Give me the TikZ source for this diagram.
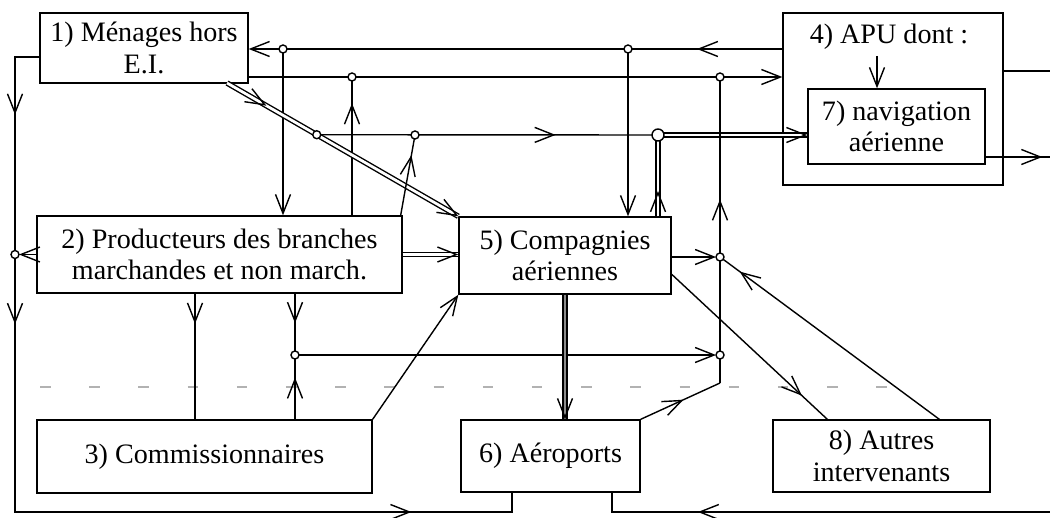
\documentclass[tikz,border=0pt]{standalone}
\usepackage{fontspec}
\setmainfont{Liberation Serif}
\usetikzlibrary{arrows.meta, positioning, calc, decorations.markings}
\tikzset{
  box/.style={rectangle, draw, line width=0.8pt, align=center, inner sep=2pt},
  flow/.style={line width=0.8pt},
  endarr/.style={-{Straight Barb[length=3.8mm, width=3mm]}},
  arr/.style={postaction={decorate, decoration={markings,
    mark=at position #1 with {\arrow[line width=0.8pt]{Straight Barb[length=3.8mm, width=3mm]}}}}},
  dbl/.style={line width=0.8pt, double, double distance=0.55mm},
  hvy/.style={line width=0.8pt, double=black!45, double distance=0.45mm},
  dot/.style={circle, draw, line width=0.8pt, fill=white, inner sep=0pt, minimum size=1.6mm},
  faint/.style={draw=black!30, line width=0.6pt, dash pattern=on 6pt off 22pt},
}

\begin{document}
\begin{tikzpicture}[x=0.02cm, y=-0.02cm, font=\fontsize{16}{18}\selectfont]
\useasboundingbox (0,0) rectangle (1050,517);
% agents
\node[box, minimum width=4.16cm, minimum height=1.4cm] (b1) at (144,48) {1) Ménages hors\\E.I.};
\node[box, minimum width=4.4cm, minimum height=3.44cm] (b4) at (893,99) {};
\node (t4) at (889,37) {4) APU dont :};
\node[box, minimum width=3.54cm, minimum height=1.5cm] (b7) at (896.5,126.5) {7) navigation\\aérienne};
\node[box, minimum width=7.3cm, minimum height=1.54cm] (b2) at (219.5,254.5) {2) Producteurs des branches\\marchandes et non march.};
\node[box, minimum width=4.24cm, minimum height=1.54cm] (b5) at (565,255.5) {5) Compagnies\\aériennes};
\node[box, minimum width=6.7cm, minimum height=1.46cm] (b3) at (204.5,456.5) {3) Commissionnaires};
\node[box, minimum width=3.58cm, minimum height=1.44cm] (b6) at (550.5,456) {6) Aéroports};
\node[box, minimum width=4.34cm, minimum height=1.44cm] (b8) at (881.5,456) {8) Autres\\intervenants};
% junctions and bends
\coordinate (jA1) at (283,49);
\coordinate (jA2) at (628,49);
\coordinate (jB1) at (352,77);
\coordinate (jB2) at (720,77);
\coordinate (d1) at (227,83);
\coordinate (jC0) at ($(d1)!0.388!(b5.north west)$);
\coordinate (jC1) at (415,135);
\coordinate (jC2) at (658,135);
\coordinate (jR1) at (720,257);
\coordinate (jR2) at (720,355);
\coordinate (kR) at (720,383);
\coordinate (jD) at (295,355);
\coordinate (v23) at (195,0);
\coordinate (kL1) at (15,57);
\coordinate (jL) at (15,254.5);
\coordinate (kL2) at (15,512);
\coordinate (kB1) at (512,512);
\coordinate (kB2) at (612,512);
\coordinate (kE) at (1050,512);
\coordinate (kE1) at (1050,71);
\coordinate (kE2) at (1050,157);
\coordinate (kT) at (877,0);
\coordinate (e5) at ($(b5.north east)+(0,58)$);
\coordinate (n8a) at ($(b8.north west)+(55,0)$);
\coordinate (n8b) at ($(b8.north west)+(167,0)$);
\coordinate (n2) at ($(b2.north east)+(-2,0)$);
% scan guide
\draw[faint] (40,387) -- (900,387);
% 4 -> 1 and 1 -> 4
\draw[flow, endarr, arr=0.16] (b4.west |- jA2) -- (b1.east |- jA1);
\draw[flow, endarr] (jA1) -- (b2.north -| jA1);
\draw[flow, endarr] (jA2) -- (b5.north -| jA2);
\draw[flow, endarr] (b1.east |- jB1) -- (b4.west |- jB1);
\draw[flow, arr=0.81] (b2.north -| jB1) -- (jB1);
% 1 -> 5 double
\draw[dbl] (d1) -- (b5.north west);
\path[arr=0.17, arr=1] (d1) -- (b5.north west);
\draw[flow, arr=0.7] (jC0) -- (jC2);
\draw[flow, arr=0.75] (n2) -- (jC1);
% 5 -> 7 double
\draw[dbl] (b5.north -| jC2) -- (jC2) -- (b7.west |- jC2);
\path[arr=0.11, arr=1] (b5.north -| jC2) -- (jC2) -- (b7.west |- jC2);
\draw[dbl] (b2.east) -- (b5.west |- b2.east);
\path[arr=1] (b2.east) -- (b5.west |- b2.east);
% right column
\draw[flow, endarr, shorten >=0.8mm] (b5.east |- jR1) -- (jR1);
\draw[flow, arr=0.91] (n8b) -- (jR1);
\draw[flow, arr=0.54] (b6.north east) -- (kR);
\draw[flow, arr=0.6] (kR) -- (jB2);
\draw[flow, endarr, shorten >=0.8mm] (jD) -- (jR2);
\draw[flow, arr=0.84] (e5) -- (n8a);
% 2, 3 and 6
\draw[flow, arr=0.24] (b2.south -| v23) -- (b3.north -| v23);
\draw[flow, arr=0.48] (b2.south -| jD) -- (jD);
\draw[flow, arr=0.65] (b3.north -| jD) -- (jD);
\draw[flow, endarr] (b3.north east) -- (b5.south west);
\draw[hvy] (b5.south) -- (b6.north -| b5.south);
\path[arr=1] (b5.south) -- (b6.north -| b5.south);
% outer loop
\draw[flow, arr=0.37] (b1.west |- kL1) -- (kL1) -- (jL);
\draw[flow, endarr, shorten >=0.8mm] (b2.west) -- (jL);
\draw[flow, arr=0.09, arr=0.845] (jL) -- (kL2) -- (kB1) -- (b6.south -| kB1);
\draw[flow, arr=0.77] (kE) -- (kB2) -- (b6.south -| kB2);
\draw[flow] (b4.east |- kE1) -- (kE1);
\draw[flow, arr=0.88] (b7.east |- kE2) -- (kE2);
\draw[flow, endarr] (t4.south -| kT) -- (b7.north -| kT);
% dots
\foreach \j in {jA1,jA2,jB1,jB2,jC0,jC1,jR1,jR2,jD,jL}
  \node[dot] (d\j) at (\j) {};
\node[dot, minimum size=2.4mm] (djC2) at (jC2) {};
\end{tikzpicture}
\end{document}
